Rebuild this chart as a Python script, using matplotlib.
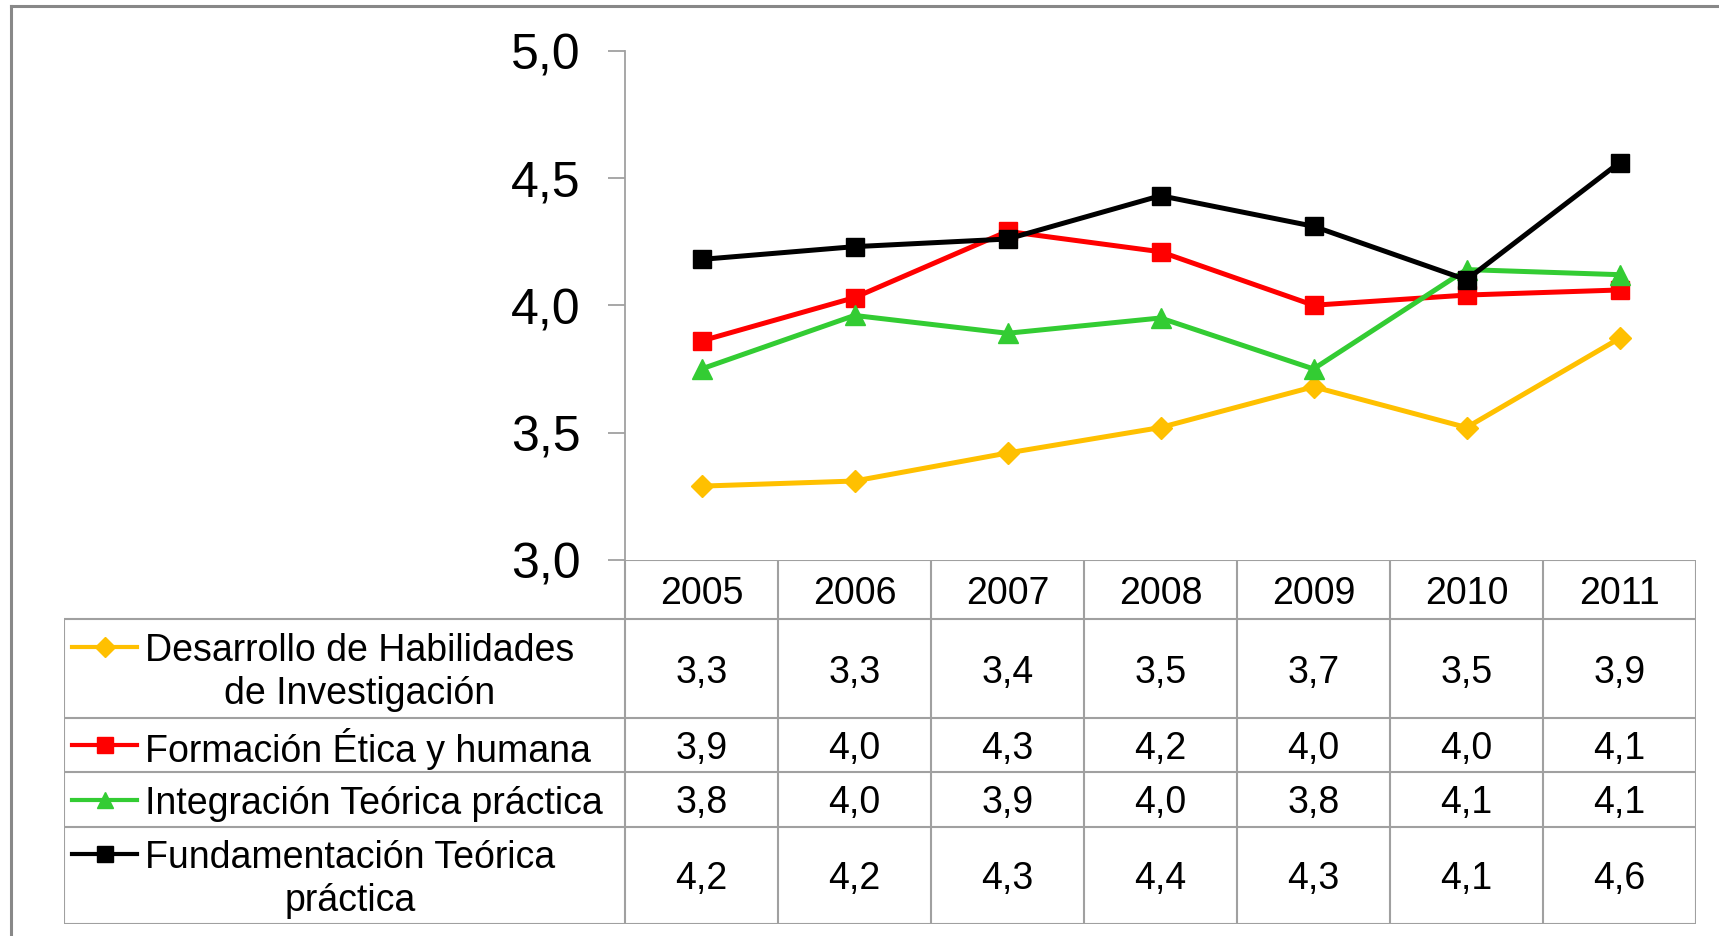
import matplotlib.pyplot as plt
from matplotlib.lines import Line2D

plt.rcParams['font.family'] = ['Liberation Sans', 'DejaVu Sans']

years = ['2005', '2006', '2007', '2008', '2009', '2010', '2011']
series_names = ['Desarrollo de Habilidades\nde Investigación',
                'Formación Ética y humana',
                'Integración Teórica práctica',
                'Fundamentación Teórica\npráctica']
desarrollo = [3.29, 3.31, 3.42, 3.52, 3.68, 3.52, 3.87]
formacion = [3.86, 4.03, 4.29, 4.21, 4.00, 4.04, 4.06]
integracion = [3.75, 3.96, 3.89, 3.95, 3.75, 4.14, 4.12]
fundamentacion = [4.18, 4.23, 4.26, 4.43, 4.31, 4.10, 4.56]
y_ticks = [3.0, 3.5, 4.0, 4.5, 5.0]

all_series = [desarrollo, formacion, integracion, fundamentacion]
colors = ['#FFC000', '#FF0000', '#33CC33', '#000000']
markers = ['D', 's', '^', 's']
msizes = [11, 13.5, 15, 13.5]
grid_col = '#A0A0A0'

W, H = 1719, 937
fig = plt.figure(figsize=(W / 100, H / 100), dpi=100)

# pixel layout
ax_left, ax_right, ax_top, ax_bottom = 625, 1696, 51.5, 561
tab_left, tab_bottom = 64, 925
row_h = [59, 99, 54, 55, 97]  # header + 4 series rows

ax = fig.add_axes([ax_left / W, 1 - ax_bottom / H,
                   (ax_right - ax_left) / W, (ax_bottom - ax_top) / H])
x = list(range(len(years)))
for vals, c, m, ms in zip(all_series, colors, markers, msizes):
    ax.plot(x, vals, color=c, lw=3.6, marker=m, markersize=ms,
            markeredgecolor=c, clip_on=False)

ax.set_xlim(-0.5, len(years) - 0.5)
ax.set_ylim(3, 5)
ax.set_yticks(y_ticks)
ax.set_yticklabels([f'{v:.1f}'.replace('.', ',') for v in y_ticks], fontsize=36)
ax.tick_params(axis='y', direction='out', length=12, width=1.3, color=grid_col, pad=20)
ax.set_xticks([])
for s in ['top', 'right', 'bottom']:
    ax.spines[s].set_visible(False)
ax.spines['left'].set_color(grid_col)
ax.spines['left'].set_linewidth(1.3)

# data table below the plot
tab = fig.add_axes([tab_left / W, 1 - tab_bottom / H,
                    (ax_right - tab_left) / W, (tab_bottom - ax_bottom) / H])
tab.set_xlim(0, ax_right - tab_left)
tab.set_ylim(sum(row_h), 0)
tab.axis('off')

leg_w = ax_left - tab_left
col_w = (ax_right - ax_left) / len(years)
edges = [0]
for h in row_h:
    edges.append(edges[-1] + h)

lk = dict(color=grid_col, lw=1.5, solid_capstyle='butt')
# horizontal lines
tab.plot([leg_w, ax_right - tab_left], [0, 0], **lk)
for e in edges[1:]:
    tab.plot([0, ax_right - tab_left], [e, e], **lk)
# vertical lines
tab.plot([0, 0], [edges[1], edges[-1]], **lk)
for i in range(len(years) + 1):
    xv = leg_w + i * col_w
    tab.plot([xv, xv], [0, edges[-1]], **lk)

txt_dy = 3  # small downward nudge so glyphs sit like the original

# header
for i, yr in enumerate(years):
    tab.text(leg_w + (i + 0.5) * col_w, (edges[0] + edges[1]) / 2 + txt_dy, yr,
             ha='center', va='center', fontsize=27)

# rows
line_h = 44
for r, (name, vals, c, m) in enumerate(zip(series_names, all_series, colors, markers)):
    yc = (edges[r + 1] + edges[r + 2]) / 2
    nl = name.count('\n') + 1
    ky = yc - (nl - 1) * line_h / 2
    tab.add_line(Line2D([8, 73], [ky, ky], color=c, lw=3))
    tab.plot([41], [ky], marker=m, color=c, markersize=12 if m != 'D' else 10)
    tab.text(81, yc + txt_dy, name, ha='left', va='center', multialignment='center',
             fontsize=27, linespacing=1.26)
    for i, v in enumerate(vals):
        tab.text(leg_w + (i + 0.5) * col_w, yc + txt_dy, f'{v:.1f}'.replace('.', ','),
                 ha='center', va='center', fontsize=27)

# outer chart border (top and left visible)
fig.add_artist(Line2D([11 / W, 1], [1 - 7 / H, 1 - 7 / H], transform=fig.transFigure,
                      color='#888888', lw=2.2))
fig.add_artist(Line2D([11 / W, 11 / W], [0, 1 - 7 / H], transform=fig.transFigure,
                      color='#888888', lw=2.2))

fig.savefig('out.png', dpi=100, facecolor='white')
